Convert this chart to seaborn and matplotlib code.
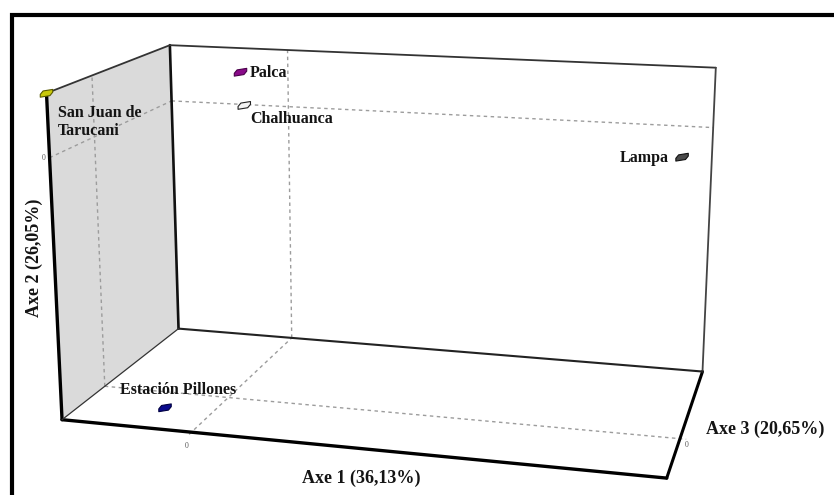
import numpy as np
import matplotlib
matplotlib.use("Agg")
import matplotlib.pyplot as plt
import seaborn as sns
from matplotlib.path import Path
from matplotlib.patches import Rectangle
from mpl_toolkits.mplot3d.art3d import Poly3DCollection

# Site scores on the first three factorial axes
sites = ["San Juan de\nTarucani", "Palca", "Chalhuanca", "Lampa", "Estación Pillones"]
axe1 = [-0.80, -0.32, 0.03, 2.52, -0.30]
axe2 = [0.40, 0.23, 0.19, -0.21, -1.70]
axe3 = [-0.60, 1.20, 0.30, 1.20, -0.26]
site_colors = ["#c9c90a", "#8a0a8a", "#f4f4f4", "#4a4a4a", "#0a0a8c"]
site_edges = ["#5a5a00", "#4a004a", "#222222", "#111111", "#000040"]

axe1_range = [-0.80, 2.70]
axe2_range = [-1.70, 0.40]
axe3_range = [-0.60, 1.20]

axis_titles = ["Axe 1 (36,13%)", "Axe 2 (26,05%)", "Axe 3 (20,65%)"]
zero_label = "0"

sns.set_style("white")
plt.rcParams["font.family"] = ["Liberation Serif", "DejaVu Serif"]

W, H = 834, 495
fig = plt.figure(figsize=(W / 100, H / 100), dpi=100)
fig.patch.set_facecolor("white")

# Large square 3D axes; the cube occupies the visible part of the figure
ax = fig.add_axes([0.027616, -0.236541, 0.867018, 1.460794],
                  projection="3d", computed_zorder=False)
ax.set_axis_off()
ax.patch.set_alpha(0)
ax.view_init(elev=14.5537, azim=-75.0169, roll=0.0022)
ax.set_proj_type("persp", focal_length=0.4758)
ax.set_box_aspect((1, 0.5263, 0.5481))

x0, x1 = axe1_range
y0, y1 = axe3_range
z0, z1 = axe2_range

# Shaded side wall
wall = Poly3DCollection([[(x0, y0, z0), (x0, y1, z0), (x0, y1, z1), (x0, y0, z1)]],
                        facecolor="#dadada", edgecolor="none", zorder=0)
ax.add_collection3d(wall)

# Dashed zero reference lines on the three walls
dash = dict(color="#9c9c9c", lw=1.0, ls=(0, (2.5, 2.5)), zorder=1)
ax.plot([x0, x0], [y0, y1], [0, 0], **dash)
ax.plot([x0, x1], [y1, y1], [0, 0], **dash)
ax.plot([x0, x0], [0, 0], [z0, z1], **dash)
ax.plot([0, 0], [y1, y1], [z0, z1], **dash)
ax.plot([0, 0], [y0 - 0.02 * (y1 - y0), y1], [z0, z0], **dash)
ax.plot([x0, x1 + 0.01 * (x1 - x0)], [0, 0], [z0, z0], **dash)

# Cube edges: front edges heavy, back edges light
def edge(p, q, lw, c):
    ax.plot([p[0], q[0]], [p[1], q[1]], [p[2], q[2]], color=c, lw=lw,
            solid_capstyle="round", zorder=2)

edge((x0, y0, z1), (x0, y0, z0), 2.4, "#000000")
edge((x0, y0, z0), (x1, y0, z0), 2.4, "#000000")
edge((x1, y0, z0), (x1, y1, z0), 2.2, "#000000")
edge((x0, y1, z1), (x0, y1, z0), 1.9, "#111111")
edge((x0, y0, z1), (x0, y1, z1), 1.3, "#333333")
edge((x0, y1, z1), (x1, y1, z1), 1.3, "#333333")
edge((x1, y1, z1), (x1, y1, z0), 1.3, "#444444")
edge((x0, y1, z0), (x1, y1, z0), 1.5, "#222222")
edge((x0, y0, z0), (x0, y1, z0), 0.9, "#333333")

# Small block seen in perspective, used as the point symbol
block = Path([(-1.0, -0.65), (0.55, -0.4), (1.0, 0.15), (1.0, 0.6),
              (-0.55, 0.35), (-1.0, -0.2), (-1.0, -0.65)],
             [Path.MOVETO] + [Path.LINETO] * 5 + [Path.CLOSEPOLY])
ax.scatter(axe1, axe3, axe2, marker=block, s=80, c=site_colors,
           edgecolors=site_edges, linewidths=0.8, depthshade=False, zorder=3)

ax.set_xlim(*axe1_range)
ax.set_ylim(*axe3_range)
ax.set_zlim(*axe2_range)

# Project the 3D positions to place labels with point offsets
M = ax.get_proj()

def to2d(x, y, z):
    v = M @ np.array([x, y, z, 1.0])
    return v[0] / v[3], v[1] / v[3]

label_style = dict(fontsize=11.5, fontweight="bold", color="#141414",
                   textcoords="offset points", zorder=4)
offsets = [(8.5, -8.8, "left", "top"), (6.8, -0.8, "left", "center"),
           (4.5, -10.2, "left", "center"), (-9.8, -1.0, "right", "center"),
           (9.5, 12.5, "center", "center")]
for name, a1, a2, a3, (dx, dy, ha, va) in zip(sites, axe1, axe2, axe3, offsets):
    ax.annotate(name, xy=to2d(a1, a3, a2), xytext=(dx, dy), ha=ha, va=va,
                linespacing=1.12, **label_style)

zero_style = dict(fontsize=5.5, color="#555555", textcoords="offset points",
                  ha="center", va="center", zorder=4)
ax.annotate(zero_label, xy=to2d(x0, y0, 0), xytext=(-4.5, 0), **zero_style)
ax.annotate(zero_label, xy=to2d(0, y0, z0), xytext=(-3.5, -10), **zero_style)
ax.annotate(zero_label, xy=to2d(x1, 0, z0), xytext=(5, -4.5), **zero_style)

# Axis titles
title_style = dict(fontsize=13, fontweight="bold", color="#141414")
fig.text(361 / W, 1 - 478 / H, axis_titles[0], ha="center", va="center", **title_style)
fig.text(34 / W, 1 - 258 / H, axis_titles[1], ha="center", va="center",
         rotation=90, **title_style)
fig.text(706 / W, 1 - 429 / H, axis_titles[2], ha="left", va="center", **title_style)

# Heavy outer frame
fig.add_artist(Rectangle((12 / W, -0.2), 1.2, 1.2 - 15 / H,
                         transform=fig.transFigure, fill=False,
                         edgecolor="black", lw=3.0, zorder=10))

fig.savefig("out.png", dpi=100, facecolor="white")
